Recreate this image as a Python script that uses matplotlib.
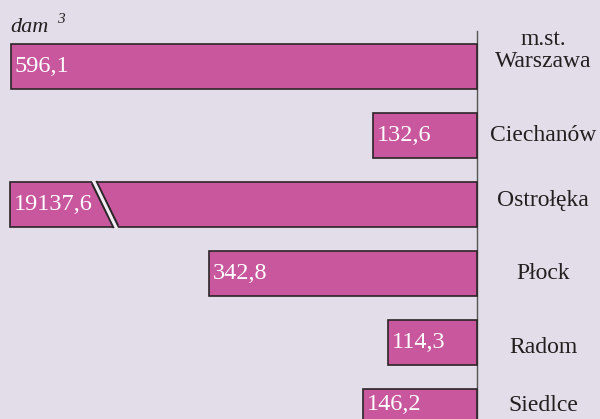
import numpy as np
from matplotlib import pyplot as plt

# dane: wielkosc w dam3 wg podregionow
regiony = ['m.st.\nWarszawa', 'Ciechanów', 'Ostrołęka', 'Płock', 'Radom', 'Siedlce']
wartosci = [596.1, 132.6, 19137.6, 342.8, 114.3, 146.2]
etykiety = ['596,1', '132,6', '19137,6', '342,8', '114,3', '146,2']

tlo = '#e2dde8'
kolor_slupka = '#c8579e'
krawedz = '#2b2528'
tekst = '#231f20'

plt.rcParams['font.family'] = ['Liberation Serif', 'DejaVu Serif']

# skala przerwana: dlugie slupki obcinamy do maksimum osi
granica = 597.0
dlugosci = [min(v, granica) for v in wartosci]

fig = plt.figure(figsize=(6, 4.19), dpi=100)
fig.patch.set_facecolor(tlo)
ax = fig.add_axes([0, 0, 1, 1])
ax.set_facecolor(tlo)

px = 0.782  # pikseli na jednostke
ax.set_xlim(-477 / px, (600 - 477) / px)
krok = 69.0
ax.set_ylim((419 - 66.5) / krok, -66.5 / krok)

y = np.arange(len(regiony))
ax.barh(y, [-d for d in dlugosci], left=0, height=0.65, color=kolor_slupka,
        edgecolor=krawedz, linewidth=1.2, zorder=2)

przes_wart = [0, 0, 0, 0, 0, -0.1]
for i, (d, e) in enumerate(zip(dlugosci, etykiety)):
    ax.text(-d + 4 / px, i + przes_wart[i], e, color='white', fontsize=17.5,
            va='center', ha='left', zorder=4)

# znak przerwania skali
for i, v in enumerate(wartosci):
    if v > granica:
        x_gora, x_dol = -(477 - 94) / px, -(477 - 116) / px
        ax.plot([x_gora, x_dol], [i - 0.325, i + 0.325], color=krawedz,
                lw=5, solid_capstyle='butt', zorder=3)
        ax.plot([x_gora - 0.7 / px, x_dol + 0.7 / px], [i - 0.35, i + 0.35],
                color='#f2eef5', lw=2.2, solid_capstyle='butt', zorder=3)

przes = [-0.23, 0, -0.06, 0, 0.07, -0.09]
for i, r in enumerate(regiony):
    ax.text((543 - 477) / px, i + przes[i], r, ha='center', va='center',
            fontsize=17, color=tekst, linespacing=1.1)

ax.axvline(0, ymin=0, ymax=1 - 31 / 419, color='#555555', lw=1, zorder=1)

ax.annotate('dam', xy=(10 / 600, 1 - 32 / 419), xycoords='figure fraction',
            fontsize=16, style='italic', color=tekst, ha='left', va='baseline')
ax.annotate('3', xy=(57 / 600, 1 - 23 / 419), xycoords='figure fraction',
            fontsize=11, style='italic', color=tekst, ha='left', va='baseline')

ax.axis('off')
plt.savefig('out.png', dpi=100, facecolor=tlo)
plt.close()
